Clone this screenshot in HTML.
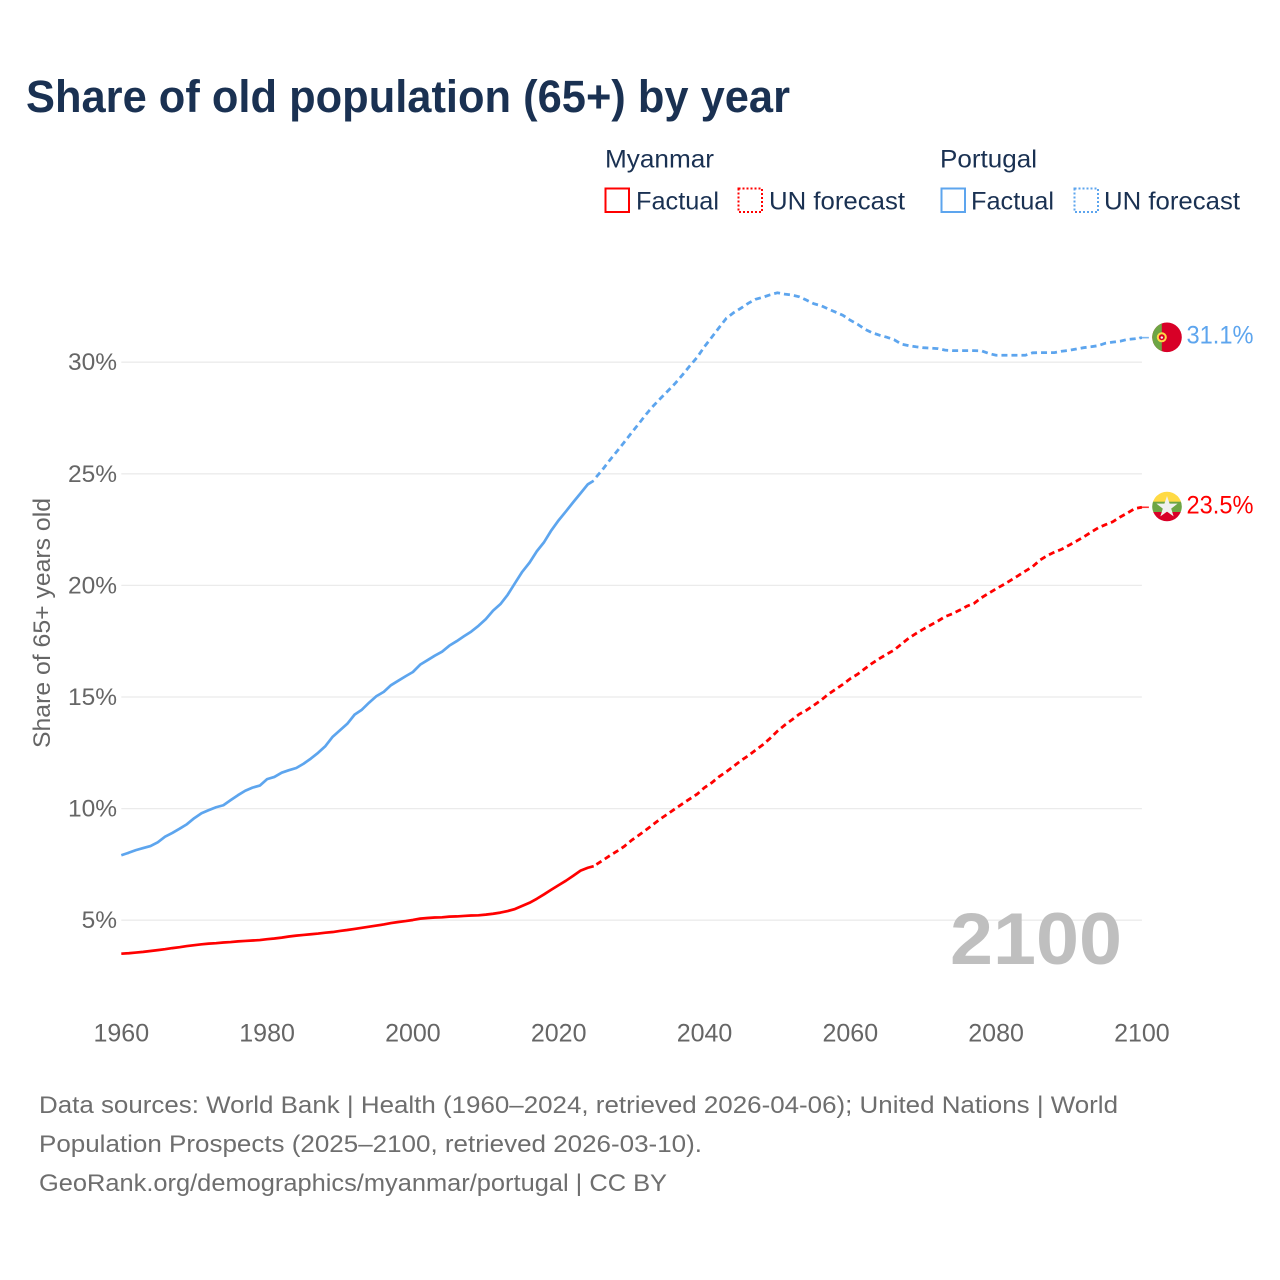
<!DOCTYPE html>
<html lang="en">
<head>
<meta charset="utf-8">
<title>Share of old population (65+) by year</title>
<style>
html,body{margin:0;padding:0;background:#fff;}
svg{display:block;font-family:"Liberation Sans",sans-serif;}
</style>
</head>
<body>
<svg id="chart" xmlns="http://www.w3.org/2000/svg" width="1280" height="1280" viewBox="0 0 1280 1280">
  <rect x="0" y="0" width="1280" height="1280" fill="#ffffff"/>
  <text x="26" y="112" font-size="45" font-weight="700" fill="#1a3152" textLength="764" lengthAdjust="spacingAndGlyphs">Share of old population (65+) by year</text>

  <g font-size="25" fill="#1a3152">
    <text x="605" y="167.5" textLength="109" lengthAdjust="spacingAndGlyphs">Myanmar</text>
    <text x="940" y="167.5" textLength="97" lengthAdjust="spacingAndGlyphs">Portugal</text>
    <rect x="605.5" y="188.5" width="23.5" height="23.5" fill="none" stroke="#ff0000" stroke-width="2"/>
    <text x="636" y="209.5" textLength="83" lengthAdjust="spacingAndGlyphs">Factual</text>
    <rect x="738.5" y="188.5" width="23.5" height="23.5" fill="none" stroke="#ff0000" stroke-width="2" stroke-dasharray="2 2"/>
    <text x="769" y="209.5" textLength="136" lengthAdjust="spacingAndGlyphs">UN forecast</text>
    <rect x="941.5" y="188.5" width="23.5" height="23.5" fill="none" stroke="#5da5ee" stroke-width="2"/>
    <text x="971" y="209.5" textLength="83" lengthAdjust="spacingAndGlyphs">Factual</text>
    <rect x="1074.5" y="188.5" width="23.5" height="23.5" fill="none" stroke="#5da5ee" stroke-width="2" stroke-dasharray="2 2"/>
    <text x="1104" y="209.5" textLength="136" lengthAdjust="spacingAndGlyphs">UN forecast</text>
  </g>

  <text transform="translate(50,748) rotate(-90)" x="0" y="0" font-size="24.5" fill="#666666" textLength="250" lengthAdjust="spacingAndGlyphs">Share of 65+ years old</text>

  <g id="grid"></g>
  <g id="yticks" font-size="24.5" fill="#666666" text-anchor="end"></g>
  <g id="xticks" font-size="25" fill="#666666" text-anchor="middle"></g>

  <text x="1122" y="964" font-size="73" font-weight="700" fill="#bfbfbf" text-anchor="end" textLength="172" lengthAdjust="spacingAndGlyphs">2100</text>

  <g id="series"></g>

  <defs>
    <clipPath id="clip-pt"><circle cx="1167" cy="337.3" r="14.8"/></clipPath>
    <clipPath id="clip-mm"><circle cx="1167" cy="506.5" r="14.8"/></clipPath>
  </defs>
  <g id="flag-pt" clip-path="url(#clip-pt)">
    <rect x="1150" y="320" width="34" height="36" fill="#d80027"/>
    <rect x="1150" y="320" width="11.8" height="36" fill="#6da544"/>
    <circle cx="1161.8" cy="337.3" r="5" fill="#ffda44"/>
    <circle cx="1161.8" cy="337.3" r="3" fill="#d80027"/>
    <circle cx="1161.8" cy="337.6" r="1.2" fill="#f0f0f0"/>
  </g>
  <g id="flag-mm" clip-path="url(#clip-mm)">
    <rect x="1150" y="490" width="34" height="12" fill="#ffda44"/>
    <rect x="1150" y="501.7" width="34" height="10.5" fill="#6da544"/>
    <rect x="1150" y="512" width="34" height="12" fill="#d80027"/>
    <polygon points="1167,496 1169.6,503.6 1177.6,503.6 1171.2,508.6 1173.6,516.4 1167,511.6 1160.4,516.4 1162.8,508.6 1156.4,503.6 1164.4,503.6" fill="#f0f0f0"/>
  </g>

  <g id="end-labels" font-size="25"></g>

  <g font-size="24.5" fill="#6e6e6e">
    <text x="39" y="1113" textLength="1079" lengthAdjust="spacingAndGlyphs">Data sources: World Bank | Health (1960–2024, retrieved 2026-04-06); United Nations | World</text>
    <text x="39" y="1152" textLength="663" lengthAdjust="spacingAndGlyphs">Population Prospects (2025–2100, retrieved 2026-03-10).</text>
    <text x="39" y="1191" textLength="628" lengthAdjust="spacingAndGlyphs">GeoRank.org/demographics/myanmar/portugal | CC BY</text>
  </g>
</svg>

<script>
const xTickLabels = [1960, 1980, 2000, 2020, 2040, 2060, 2080, 2100];
const yTickLabels = [5, 10, 15, 20, 25, 30];

const portugalFactual = [7.91,8.02,8.14,8.23,8.32,8.49,8.74,8.91,9.10,9.30,9.57,9.79,9.93,10.06,10.15,10.38,10.60,10.80,10.94,11.03,
  11.32,11.42,11.61,11.72,11.82,12.01,12.24,12.50,12.80,13.22,13.51,13.80,14.21,14.43,14.75,15.04,15.23,15.53,15.73,15.93,
  16.12,16.45,16.65,16.85,17.03,17.30,17.50,17.72,17.93,18.19,18.49,18.87,19.16,19.58,20.10,20.61,21.02,21.53,21.94,22.47,
  22.92,23.32,23.73,24.13,24.53,24.69];
const portugalForecast = [24.80,25.18,25.61,26.01,26.42,26.84,27.25,27.67,28.05,28.39,28.72,29.06,29.44,29.84,30.22,
  30.70,31.12,31.55,31.97,32.22,32.42,32.64,32.82,32.91,33.02,33.11,33.05,33.01,32.93,32.78,32.62,32.53,32.38,32.24,32.10,
  31.88,31.70,31.48,31.32,31.21,31.12,31.01,30.81,30.74,30.69,30.65,30.63,30.61,30.54,30.52,30.52,30.52,30.52,30.51,30.39,
  30.31,30.31,30.31,30.31,30.31,30.42,30.43,30.43,30.43,30.49,30.53,30.59,30.65,30.69,30.74,30.85,30.90,30.94,31.02,31.05,31.10];
const myanmarFactual = [3.50,3.52,3.55,3.58,3.62,3.66,3.70,3.75,3.79,3.84,3.88,3.92,3.95,3.97,4.00,4.02,4.05,4.07,4.09,4.11,
  4.15,4.18,4.22,4.27,4.31,4.34,4.37,4.40,4.44,4.47,4.52,4.56,4.61,4.66,4.71,4.76,4.81,4.87,4.92,4.96,
  5.01,5.07,5.10,5.12,5.13,5.16,5.17,5.19,5.21,5.22,5.25,5.29,5.34,5.41,5.50,5.64,5.78,5.96,6.16,6.37,
  6.57,6.77,6.99,7.22,7.35,7.42];
const myanmarForecast = [7.46,7.67,7.89,8.09,8.31,8.58,8.81,9.05,9.30,9.55,9.77,10.00,10.22,10.44,10.65,
  10.94,11.16,11.43,11.65,11.90,12.15,12.37,12.62,12.86,13.15,13.47,13.74,13.98,14.23,14.41,14.63,14.86,15.13,15.35,15.57,
  15.82,16.02,16.27,16.51,16.72,16.92,17.10,17.37,17.63,17.84,18.04,18.22,18.40,18.60,18.73,18.89,19.07,19.20,19.45,19.65,
  19.85,20.03,20.23,20.43,20.64,20.84,21.13,21.33,21.49,21.62,21.80,21.98,22.17,22.38,22.58,22.72,22.85,23.06,23.24,23.44,23.50];

const SVG_NS = 'http://www.w3.org/2000/svg';
function x(year) { return 121.3 + (year - 1960) * 7.29; }
function y(value) { return 920.2 - (value - 5) * 22.32; }
function factualYear(i) { return i < 65 ? 1960 + i : 2024.8; }
function forecastYear(i) { return 2025 + i; }
function linePath(values, yearOf) {
  return values.map(function (v, i) {
    return (i ? 'L' : 'M') + x(yearOf(i)).toFixed(2) + ' ' + y(v).toFixed(2);
  }).join('');
}
function make(tag, parentId) {
  const el = document.createElementNS(SVG_NS, tag);
  document.getElementById(parentId).appendChild(el);
  return el;
}

yTickLabels.forEach(function (t) {
  const line = make('line', 'grid');
  
  
  line.setAttribute('x1', x(1960));
  line.setAttribute('x2', x(2100));
  line.setAttribute('y1', y(t));
  line.setAttribute('y2', y(t));
  line.setAttribute('stroke', '#ebebeb');
  line.setAttribute('stroke-width', '1.3');

  const label = make('text', 'yticks');
  
  
  label.setAttribute('x', '117');
  label.setAttribute('y', y(t) + 8);
  label.textContent = t + '%';
});

xTickLabels.forEach(function (t) {
  const label = make('text', 'xticks');
  
  
  label.setAttribute('x', x(t));
  label.setAttribute('y', '1041.5');
  label.textContent = String(t);
});

function drawSeries(name, color, factual, forecast) {
  const solid = make('path', 'series');
  
  
  solid.setAttribute('d', linePath(factual, factualYear));
  solid.setAttribute('fill', 'none');
  solid.setAttribute('stroke', color);
  solid.setAttribute('stroke-width', '2.7');
  solid.setAttribute('stroke-linejoin', 'round');

  const dashed = make('path', 'series');
  
  
  dashed.setAttribute('d', linePath(forecast, forecastYear));
  dashed.setAttribute('fill', 'none');
  dashed.setAttribute('stroke', color);
  dashed.setAttribute('stroke-width', '2.8');
  dashed.setAttribute('stroke-dasharray', '6 4');
  dashed.setAttribute('stroke-dashoffset', '-1.5');

  const last = forecast[forecast.length - 1];
  const leader = make('line', 'series');
  
  
  leader.setAttribute('x1', x(2100) - 3);
  leader.setAttribute('x2', x(2100) + 7);
  leader.setAttribute('y1', y(last));
  leader.setAttribute('y2', y(last));
  leader.setAttribute('stroke', color);
  leader.setAttribute('stroke-width', '1.6');
  leader.setAttribute('stroke-opacity', '0.8');

  const label = make('text', 'end-labels');
  
  
  label.setAttribute('x', '1186.5');
  label.setAttribute('y', y(last) + 6);
  label.setAttribute('fill', color);
  label.setAttribute('textLength', '67');
  label.setAttribute('lengthAdjust', 'spacingAndGlyphs');
  label.textContent = last.toFixed(1) + '%';
}

drawSeries('portugal', '#5da5ee', portugalFactual, portugalForecast);
drawSeries('myanmar', '#ff0000', myanmarFactual, myanmarForecast);
</script>
</body>
</html>
